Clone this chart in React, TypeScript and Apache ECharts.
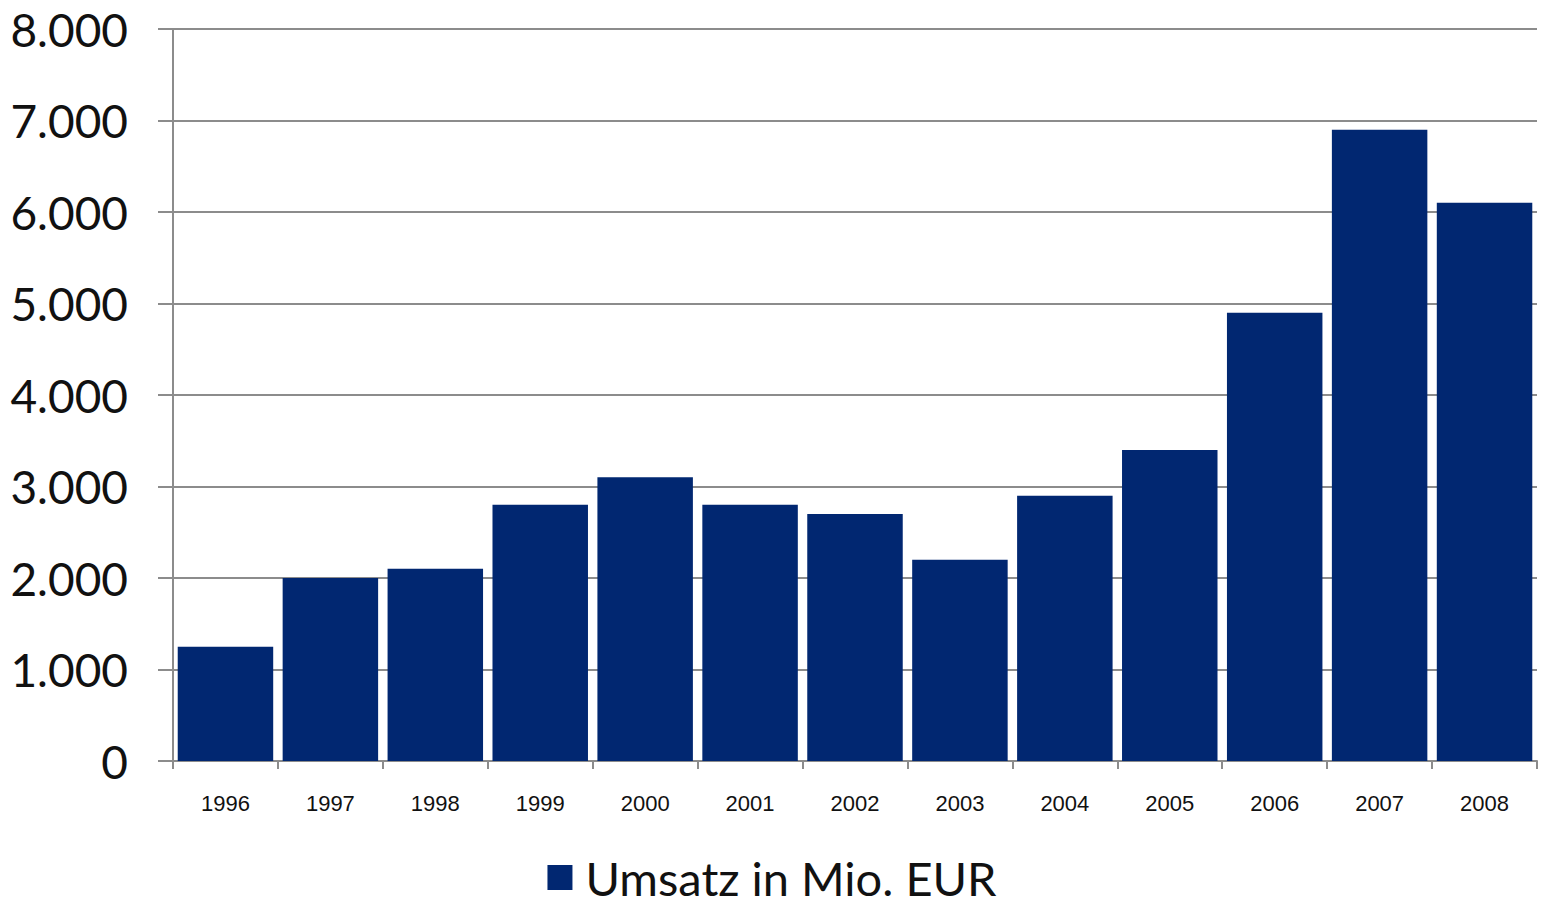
import React, { useEffect, useRef } from "react";
import * as echarts from "echarts";

const years = ["1996", "1997", "1998", "1999", "2000", "2001", "2002", "2003", "2004", "2005", "2006", "2007", "2008"];
const umsatz = [1250, 2000, 2100, 2800, 3100, 2800, 2700, 2200, 2900, 3400, 4900, 6900, 6100];
const seriesName = "Umsatz in Mio. EUR";

export default function App() {
  const ref = useRef<HTMLDivElement>(null);
  useEffect(() => {
    const chart = echarts.init(ref.current!, null, { renderer: "svg" });
    chart.setOption({
      animation: false,
      backgroundColor: "#ffffff",
      grid: { left: 173, right: 7, top: 29, bottom: 145 },
      legend: {
        bottom: 0,
        left: "center",
        itemWidth: 25,
        itemHeight: 25,
        itemGap: 10,
        icon: "rect",
        textStyle: { fontFamily: "Lato", fontSize: 47, color: "#111", padding: [0, 0, 0, 8] },
        data: [seriesName],
      },
      xAxis: {
        type: "category",
        data: years,
        boundaryGap: true,
        axisLine: { show: true, lineStyle: { color: "#8c8c8c", width: 2 } },
        axisTick: { show: true, length: 8, lineStyle: { color: "#8c8c8c", width: 2 } },
        axisLabel: { margin: 31, fontFamily: "Liberation Sans", fontSize: 22, color: "#111" },
      },
      yAxis: {
        type: "value",
        min: 0,
        max: 8000,
        interval: 1000,
        axisLine: { show: true, lineStyle: { color: "#8c8c8c", width: 2 } },
        axisTick: { show: true, length: 15, lineStyle: { color: "#8c8c8c", width: 2 } },
        splitLine: { show: true, lineStyle: { color: "#8c8c8c", width: 2 } },
        axisLabel: {
          margin: 45,
          fontFamily: "Lato",
          fontSize: 46,
          color: "#111",
          formatter: (v: number) => v.toString().replace(/\B(?=(\d{3})+(?!\d))/g, "."),
        },
      },
      series: [
        {
          name: seriesName,
          type: "bar",
          data: umsatz,
          barCategoryGap: "9%",
          itemStyle: { color: "#012771" },
        },
      ],
    });
    return () => chart.dispose();
  }, []);
  return <div ref={ref} style={{ position: "absolute", left: 0, top: 0, width: 1544, height: 906 }} />;
}
